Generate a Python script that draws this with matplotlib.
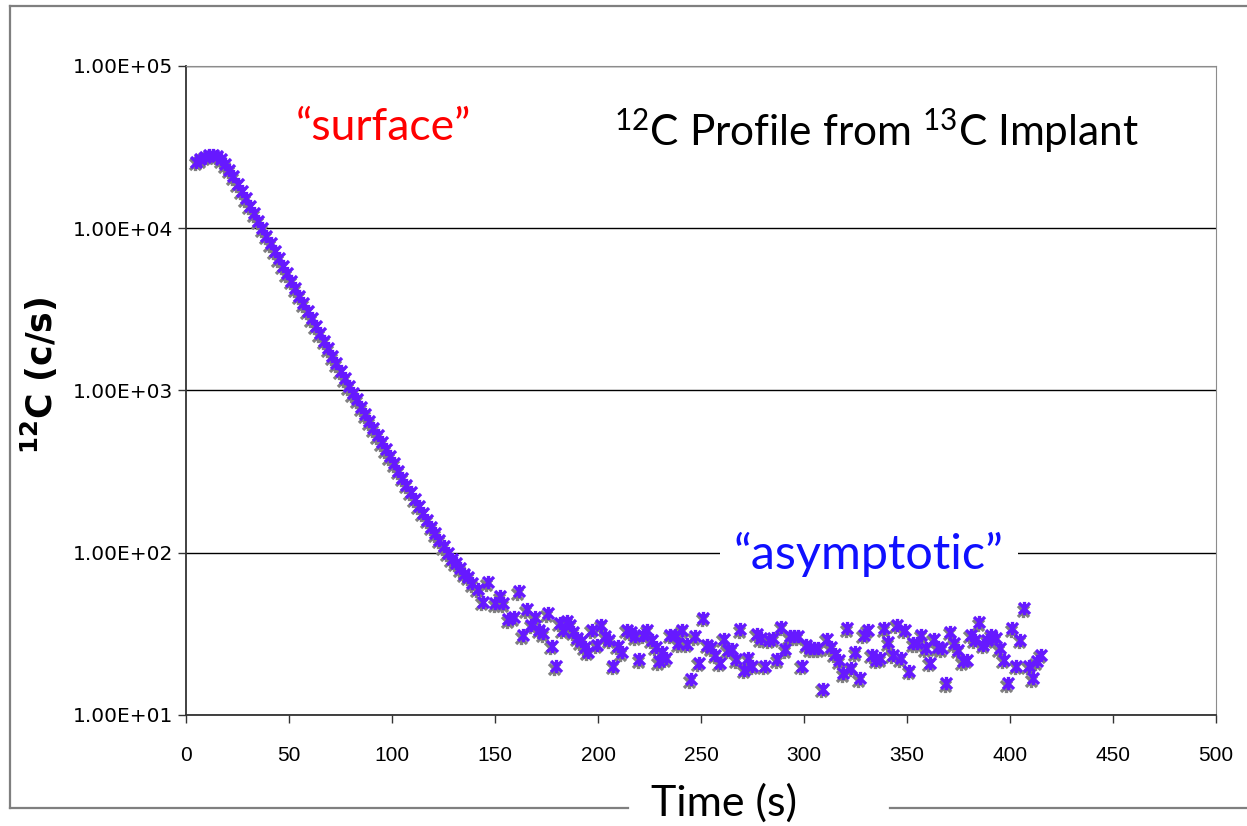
import matplotlib.pyplot as plt
import matplotlib.transforms as mtransforms
from matplotlib.path import Path
from matplotlib.lines import Line2D

plt.rcParams['mathtext.default'] = 'regular'

# decay part of the 12C depth profile (time in s, counts per second)
decay_t = [5, 7, 9, 11, 13, 15, 17, 19, 21, 23, 25, 27, 29, 31, 33, 35, 37, 39, 41, 43,
           45, 47, 49, 51, 53, 55, 57, 59, 61, 63, 65, 67, 69, 71, 73, 75, 77, 79, 81, 83,
           85, 87, 89, 91, 93, 95, 97, 99, 101, 103, 105, 107, 109, 111, 113, 115, 117, 119,
           121, 123, 125, 127, 129, 131, 133, 135, 137, 139]
decay_cps = [25700, 26600, 27500, 28200, 28300, 27900, 26600, 24800, 22900, 20900,
             18800, 17000, 15300, 13800, 12400, 11100, 10000, 9000, 8090, 7260,
             6530, 5880, 5270, 4740, 4270, 3830, 3440, 3100, 2780, 2500,
             2250, 2020, 1820, 1630, 1470, 1320, 1190, 1060, 960, 880,
             790, 713, 646, 585, 528, 479, 433, 392, 355, 321,
             290, 263, 238, 215, 195, 176, 160, 145, 132, 120,
             110, 100, 92, 87, 80, 74, 71, 65]

# background ("asymptotic") part
tail_t = [141.5, 144, 146.5, 150, 152.5, 154, 156.5, 159, 161.5, 163.5, 165.5, 167.5, 169.5,
          171.5, 173.5, 175.5, 177.5, 179.5, 181.5, 183, 185, 186.5, 188, 190, 191.5, 193.5,
          195, 197, 199.5, 201.5, 203.5, 205.5, 207.5, 209.5, 211.5, 214, 216, 218, 220, 222,
          224, 226, 228, 229.5, 231, 233, 235, 237.5, 239, 241, 243, 245, 247, 249,
          251, 253, 255, 257, 259, 261, 263, 265, 267, 269, 271, 273, 275, 277, 279, 281,
          283, 285, 287, 289, 291, 293, 295, 297, 299, 301, 303, 305, 307, 309, 311, 313,
          315, 317, 319, 321, 323, 325, 327, 329, 331, 333, 335, 337, 339, 341, 343, 345,
          347, 349, 351, 353, 355, 357, 359, 361, 363, 365, 367, 369, 371, 373, 375, 377,
          379, 381, 383, 385, 387, 389, 391, 393, 395, 397, 399, 401, 403, 405, 407, 409,
          411, 413, 415]
tail_cps = [60, 50, 66, 49, 54, 49, 39, 40, 58, 31, 45, 36, 40,
            33.5, 32, 42.5, 26.7, 20, 37, 33.5, 38, 36, 32.7, 30, 28.4, 26.3,
            24.5, 33.5, 27, 36, 30.5, 29, 20.1, 26.7, 24.3, 33.5, 32.7, 30.5, 22.1, 31.2,
            33.5, 29, 26.3, 21.4, 24.5, 22.4, 31.2, 31.2, 27.7, 33.5, 27.5, 16.6, 30.5, 21,
            39.8, 27, 26.2, 23.5, 21, 29.4, 25.2, 25.5, 22.1, 33.8, 19, 22.4, 20.1, 31.6, 29.8, 20.1,
            29, 29.8, 22.1, 35.1, 25.5, 30.5, 30.5, 30.5, 20.1, 27, 25.8, 25.8, 25.8, 14.5, 29.4, 26.2,
            23.8, 21.7, 18.1, 34.3, 19.5, 24.3, 16.9, 31.2, 33.5, 23.5, 21.9, 22.4, 34.3, 28, 23.5, 36,
            22.4, 33.5, 18.8, 27.7, 27.7, 31.2, 25.8, 21, 29.4, 26.2, 25.8, 15.7, 32.7, 27.7, 25.2, 21.4,
            21.9, 31.2, 29, 37.2, 27, 29, 31.2, 29.8, 25.8, 21.9, 15.7, 34.3, 20.1, 29, 45.5, 20.1,
            16.9, 21.4, 23.5]

time_s = decay_t + tail_t
counts = decay_cps + tail_cps

yticks = [1e1, 1e2, 1e3, 1e4, 1e5]
ytick_labels = ['1.00E+01', '1.00E+02', '1.00E+03', '1.00E+04', '1.00E+05']
xticks = [0, 50, 100, 150, 200, 250, 300, 350, 400, 450, 500]

purple = '#6619ff'
star = Path([(-1, -1), (1, 1), (-1, 1), (1, -1), (0, -1.2), (0, 1.2)],
            [Path.MOVETO, Path.LINETO, Path.MOVETO, Path.LINETO, Path.MOVETO, Path.LINETO])

fig = plt.figure(figsize=(12.47, 8.26), dpi=100)
ax = fig.add_axes([0.1492, 0.1344, 0.8259, 0.7857])

# outer chart frame, bottom edge broken by the axis title
frame = dict(transform=fig.transFigure, color='#7f7f7f', lw=1.6)
fig.add_artist(Line2D([0.008, 0.008], [0.0218, 0.9927], **frame))
fig.add_artist(Line2D([0.008, 1.0], [0.9927, 0.9927], **frame))
fig.add_artist(Line2D([0.008, 0.5036], [0.0218, 0.0218], **frame))
fig.add_artist(Line2D([0.7137, 1.0], [0.0218, 0.0218], **frame))

shadow = mtransforms.offset_copy(ax.transData, fig=fig, x=-1.5, y=-2.5, units='dots')
ax.plot(time_s, counts, linestyle='none', marker=star, markersize=9.5, mew=2.4,
        color='#808080', transform=shadow, zorder=3)
ax.plot(time_s, counts, linestyle='none', color=purple, marker=star, markersize=9.5, mew=2.4,
        zorder=4)

ax.set_yscale('log')
ax.set_xlim(0, 500)
ax.set_ylim(10, 1e5)
ax.set_yticks(yticks)
ax.set_yticklabels(ytick_labels, family='DejaVu Sans', fontsize=14.5)
ax.minorticks_off()
ax.set_xticks(xticks)
ax.set_xticklabels([str(x) for x in xticks], family=['Liberation Sans', 'DejaVu Sans'],
                   fontsize=15)
ax.tick_params(axis='both', direction='out', length=6, width=1, color='#333333')
ax.tick_params(axis='x', pad=16)
ax.tick_params(axis='y', pad=3)
ax.yaxis.grid(True, color='black', lw=1)
ax.set_axisbelow(True)
for s in ['top', 'right']:
    ax.spines[s].set_color('#8c8c8c')
for s in ['left', 'bottom']:
    ax.spines[s].set_color('#333333')
    ax.spines[s].set_linewidth(1.3)

ax.set_ylabel('$^{12}$C (c/s)', family='DejaVu Sans', fontweight='bold', fontsize=25)
ax.yaxis.set_label_coords(-0.122, 0.523)
fig.text(0.5806, 0.028, 'Time (s)', family='Lato', fontsize=31, ha='center', va='center')

ax.text(335, 4.0e4, '$^{12}$C Profile from $^{13}$C Implant', family='Lato', fontsize=30.5,
        ha='center', va='center', color='black')
ax.text(96, 4.15e4, '\u201csurface\u201d', family='Lato', fontsize=32, ha='center',
        va='center', color='red')
ax.text(331.5, 97, '\u201casymptotic\u201d', family='Lato', fontsize=35, ha='center',
        va='center', color='#1010ff',
        bbox=dict(facecolor='white', edgecolor='none', pad=10), zorder=2)

fig.savefig('out.png', dpi=100)
